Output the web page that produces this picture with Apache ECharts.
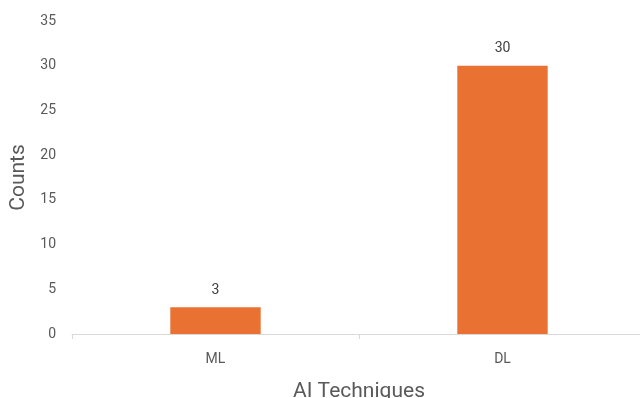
<!DOCTYPE html>
<html>
<head>
<meta charset="utf-8">
<script src="https://cdn.jsdelivr.net/npm/echarts@6/dist/echarts.min.js"></script>
<style>
  html, body { margin: 0; padding: 0; background: #fff; overflow: hidden; }
  #chart { width: 640px; height: 398px; }
</style>
</head>
<body>
<div id="chart"></div>
<script>
// Category names and counts per AI technique
const categories = ['ML', 'DL'];
const counts = [3, 30];
// Value axis range
const yMin = 0;
const yMax = 35;
const yStep = 5;

const textColor = '#595959';
const fontFamily = 'Roboto, "Open Sans", sans-serif';

const chart = echarts.init(document.getElementById('chart'));
chart.setOption({
  animation: false,
  grid: { left: 72, right: -6, top: 21, bottom: 64, containLabel: false, outerBoundsMode: 'none' },
  xAxis: {
    type: 'category',
    data: categories,
    name: 'AI Techniques',
    nameLocation: 'middle',
    nameGap: 47,
    nameTextStyle: { color: textColor, fontSize: 21, fontFamily },
    axisLine: { lineStyle: { color: '#d9d9d9', width: 1 } },
    axisTick: { show: true, alignWithLabel: false, length: 5, lineStyle: { color: '#d9d9d9' } },
    axisLabel: { color: textColor, fontSize: 14, fontFamily, margin: 18 }
  },
  yAxis: {
    type: 'value',
    min: yMin,
    max: yMax,
    interval: yStep,
    name: 'Counts',
    nameLocation: 'middle',
    nameGap: 39,
    nameTextStyle: { color: textColor, fontSize: 21, fontFamily },
    axisLine: { show: false },
    axisTick: { show: false },
    splitLine: { show: false },
    axisLabel: { color: textColor, fontSize: 14, fontFamily, margin: 16 }
  },
  series: [{
    type: 'bar',
    data: counts,
    barWidth: '31.5%',
    itemStyle: { color: '#E97132' },
    label: {
      show: true,
      position: 'top',
      distance: 10,
      color: '#404040',
      fontSize: 14,
      fontFamily
    }
  }]
});
</script>
</body>
</html>
